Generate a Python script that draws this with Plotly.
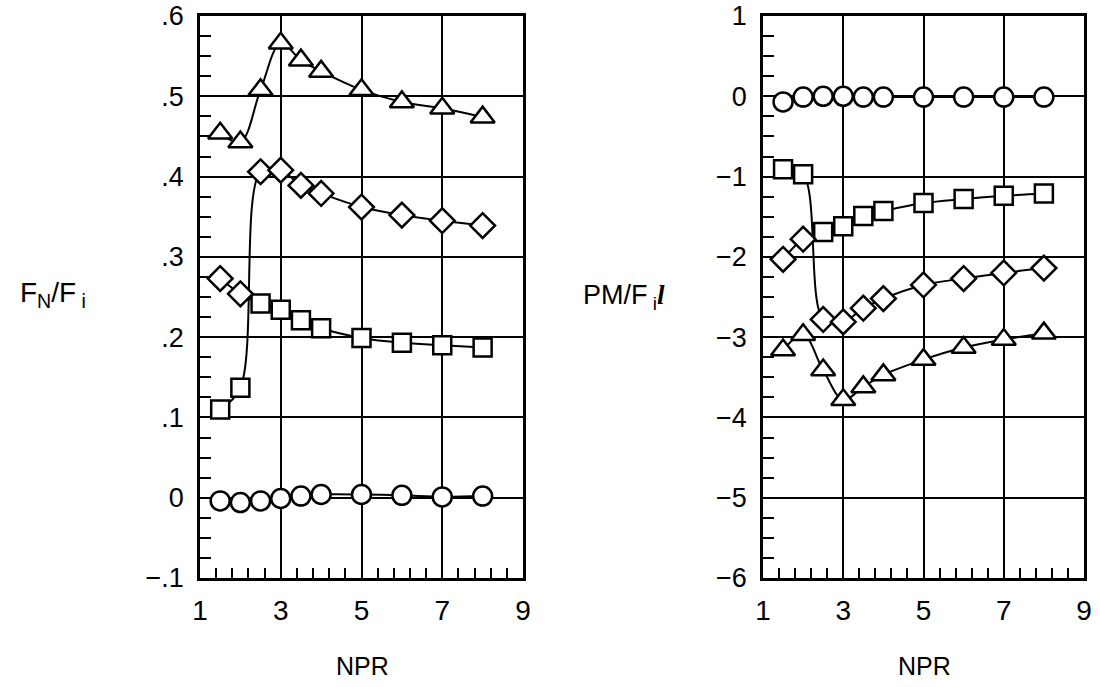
import plotly.graph_objects as go

# ---------------- data ----------------
npr = [1.5, 2, 2.5, 3, 3.5, 4, 5, 6, 7, 8]

# Left panel: F_N/F_i
fn_circle   = [-0.004, -0.006, -0.004, -0.001, 0.002, 0.004, 0.004, 0.003, 0.001, 0.002]
fn_square   = [0.110, 0.137, 0.242, 0.234, 0.221, 0.211, 0.199, 0.193, 0.190, 0.187]
fn_diamond  = [0.273, 0.254, 0.406, 0.408, 0.389, 0.379, 0.362, 0.352, 0.345, 0.339]
fn_triangle = [0.454, 0.443, 0.508, 0.566, 0.545, 0.531, 0.508, 0.493, 0.485, 0.474]

# Right panel: PM/F_i l
pm_circle   = [-0.07, -0.01, 0.0, 0.0, -0.01, -0.01, -0.01, -0.01, -0.01, -0.01]
pm_square   = [-0.91, -0.97, -1.69, -1.62, -1.49, -1.43, -1.33, -1.28, -1.24, -1.21]
pm_diamond  = [-2.03, -1.78, -2.78, -2.81, -2.64, -2.52, -2.35, -2.27, -2.20, -2.14]
pm_triangle = [-3.16, -2.97, -3.41, -3.78, -3.62, -3.47, -3.28, -3.13, -3.03, -2.95]

x_ticks = [1, 3, 5, 7, 9]
fn_ticks = [-0.1, 0, 0.1, 0.2, 0.3, 0.4, 0.5, 0.6]
fn_ticktext = ["\u2212.1", "0", ".1", ".2", ".3", ".4", ".5", ".6"]
pm_ticks = [-6, -5, -4, -3, -2, -1, 0, 1]
pm_ticktext = ["\u22126", "\u22125", "\u22124", "\u22123", "\u22122", "\u22121", "0", "1"]

# ---------------- figure ----------------
FONT = "Liberation Sans, Arial, sans-serif"
fig = go.Figure()

def add_line(xa, ya, y):
    fig.add_trace(go.Scatter(x=npr, y=y, mode="lines", xaxis=xa, yaxis=ya,
                             line=dict(color="black", width=2, shape="spline", smoothing=1.0),
                             showlegend=False, hoverinfo="skip"))

def add_markers(xa, ya, y, symbol, size):
    fig.add_trace(go.Scatter(x=npr, y=y, mode="markers", xaxis=xa, yaxis=ya,
                             marker=dict(symbol=symbol, size=size, color="white",
                                         line=dict(color="black", width=2.5)),
                             showlegend=False))

for xa, ya, circ, sq, dm, tri in [("x", "y", fn_circle, fn_square, fn_diamond, fn_triangle),
                                   ("x2", "y2", pm_circle, pm_square, pm_diamond, pm_triangle)]:
    # faired curves (branches cross between NPR 2 and 2.5)
    branch_a = sq[:2] + dm[2:]
    branch_b = dm[:2] + sq[2:]
    add_line(xa, ya, circ)
    add_line(xa, ya, branch_a)
    add_line(xa, ya, branch_b)
    add_line(xa, ya, tri)
    add_markers(xa, ya, circ, "circle", 19)
    add_markers(xa, ya, sq, "square", 18)
    add_markers(xa, ya, dm, "diamond", 19)
    add_markers(xa, ya, tri, "triangle-up", 21)

W, H = 1100, 687
ydom = [1 - 578 / H, 1 - 16 / H]

def xaxis(dom, anchor):
    return dict(domain=dom, anchor=anchor, range=[1, 9], tickvals=x_ticks,
                ticktext=[str(v) for v in x_ticks], automargin=False,
                showline=True, linecolor="black", linewidth=2.5, mirror=True,
                showgrid=True, gridcolor="black", gridwidth=2.2, zeroline=False,
                ticks="inside", ticklen=10, tickwidth=2, tickcolor="black",
                ticklabelstandoff=6,
                minor=dict(ticks="inside", ticklen=10, tickwidth=2, tickcolor="black",
                           dtick=0.4, tick0=1, showgrid=False),
                tickfont=dict(family=FONT, size=28, color="black"), fixedrange=True)

def yaxis(anchor, rng, tv, tt, mdt):
    return dict(domain=ydom, anchor=anchor, range=rng, tickvals=tv, ticktext=tt,
                automargin=False,
                showline=True, linecolor="black", linewidth=2.5, mirror=True,
                showgrid=True, gridcolor="black", gridwidth=2.2, zeroline=False,
                ticks="inside", ticklen=11, tickwidth=2, tickcolor="black",
                ticklabelstandoff=8,
                minor=dict(ticks="inside", ticklen=11, tickwidth=2, tickcolor="black",
                           dtick=mdt, tick0=0, showgrid=False),
                tickfont=dict(family=FONT, size=27, color="black"), fixedrange=True)

fig.update_layout(
    width=W, height=H, margin=dict(l=0, r=0, t=0, b=0, pad=0),
    paper_bgcolor="white", plot_bgcolor="white",
    xaxis=xaxis([200 / W, 523 / W], "y"),
    yaxis=yaxis("x", [-0.1, 0.6], fn_ticks, fn_ticktext, 0.025),
    xaxis2=xaxis([763 / W, 1084 / W], "y2"),
    yaxis2=yaxis("x2", [-6, 1], pm_ticks, pm_ticktext, 0.25),
    font=dict(family=FONT, color="black"),
    annotations=[
        dict(text="F<sub>N</sub>/F<sub> i</sub>", x=53 / W, y=1 - 294 / H, xref="paper", yref="paper",
             xanchor="center", yanchor="middle", showarrow=False,
             font=dict(family=FONT, size=28, color="black")),
        dict(text="PM/F<sub> i</sub><span style='font-family:Liberation Serif'><b><i>l</i></b></span>",
             x=624 / W, y=1 - 297 / H, xref="paper", yref="paper",
             xanchor="center", yanchor="middle", showarrow=False,
             font=dict(family=FONT, size=27, color="black")),
        dict(text="NPR", x=362 / W, y=1 - 666 / H, xref="paper", yref="paper",
             xanchor="center", yanchor="middle", showarrow=False,
             font=dict(family=FONT, size=25, color="black")),
        dict(text="NPR", x=924 / W, y=1 - 666 / H, xref="paper", yref="paper",
             xanchor="center", yanchor="middle", showarrow=False,
             font=dict(family=FONT, size=25, color="black")),
    ],
)

fig.write_html("out.html")
